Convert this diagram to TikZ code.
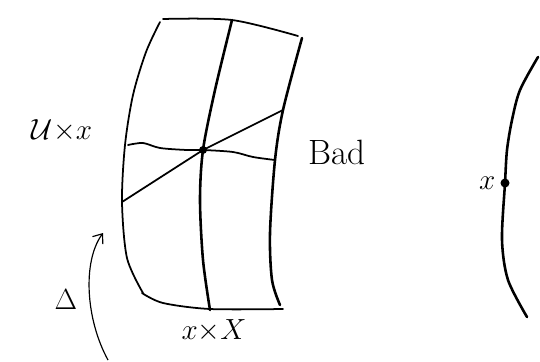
\documentclass[tikz,border=0pt]{standalone}
\usepackage{amsmath,amssymb}
\usetikzlibrary{arrows.meta, positioning}

\begin{document}
\begin{tikzpicture}[x=0.03cm, y=-0.03cm,
  pen/.style={line width=1.5pt, line cap=round, line join=round},
  heavy/.style={line width=2.2pt, line cap=round, line join=round},
  lbl/.style={font=\fontsize{30}{34}\selectfont, inner sep=0pt},
  arr/.style={-{Straight Barb[length=7pt, width=11pt]}, line width=1pt}
]
\useasboundingbox (0,0) rectangle (540,361);
% the curved box
\draw[pen] plot[smooth] coordinates {(163,19) (232,20) (298,36)};
\draw[pen] plot[smooth] coordinates {(160,22) (146,52) (133,95) (125,145) (122,202) (127,258) (143,293)};
\draw[pen] plot[smooth] coordinates {(142,293) (163,303) (210,309) (283,309)};
\draw[heavy] plot[smooth] coordinates {(302,38) (283,110) (275,160) (270,233) (272,280) (280,305)};
% fibre through the point
\coordinate (p) at (203,150);
\draw[heavy] plot[smooth] coordinates {(232,20) (215,90) (p) (200,200) (203,260) (210,310)};
\draw[pen] (122,202) -- (p) -- (283,110);
\draw[pen] plot[smooth] coordinates {(128,145) (143,143) (160,148) (187,150) (p) (233,152) (253,157) (275,160)};
\fill (p) circle (4);
% the curve on the right
\coordinate (q) at (505,183);
\draw[heavy] plot[smooth] coordinates {(538,57) (520,90) (512,120) (507,150) (q) (502,240) (508,280) (527,317)};
\fill (q) circle (4.5);
% labels
\node[lbl] (ux) at (62,131) {$\mathcal{U}{\times}x$};
\node[lbl] (bad) at (337,152) {Bad};
\node[lbl] (xX) at (214,331) {$x{\times}X$};
\node[lbl] (delta) at (66,300) {$\Delta$};
\node[lbl, left=8pt of q] (xpt) {$x$};
% the arrow
\coordinate (a0) at (108,360);
\coordinate (a1) at (103,233);
\draw[arr] (a0) .. controls (86,320) and (82,262) .. (a1);
\end{tikzpicture}
\end{document}
